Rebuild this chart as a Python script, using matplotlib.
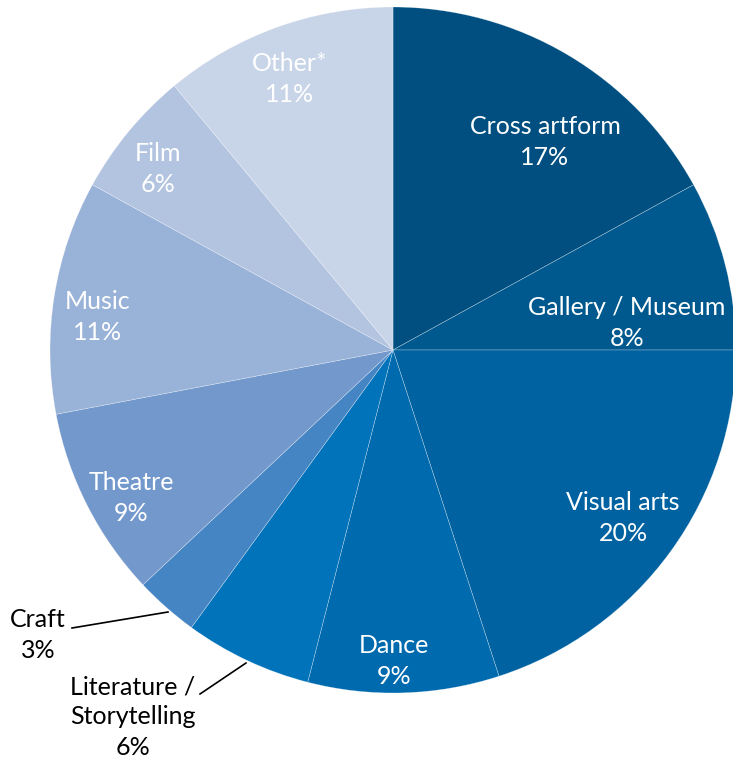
import matplotlib.pyplot as plt

# share of projects by artform (percent)
categories = ['Cross artform', 'Gallery / Museum', 'Visual arts', 'Dance',
              'Literature /\nStorytelling', 'Craft', 'Theatre', 'Music', 'Film', 'Other*']
shares = [17, 8, 20, 9, 6, 3, 9, 11, 6, 11]
colors = ['#004f80', '#00598e', '#0062a0', '#006aae', '#0073bb',
          '#4585c4', '#7398cc', '#99b2d8', '#b2c4e0', '#c8d4e7']

# label centres in pixel coords (x from left, y from top)
label_pos = [(545, 142), (627, 323), (623, 518), (394, 661),
             (133, 717), (38, 635), (131, 498), (98, 317), (158, 169), (290, 79)]
inside = [True, True, True, True, False, False, True, True, True, True]
# leader lines for the two small outside labels: (text end, wedge end)
leaders = {4: [(200, 694), (246, 663)], 5: [(72, 628), (168, 612)]}

W, H = 733, 762
cx, cy, r = 393, 350, 343

plt.rcParams['font.family'] = ['Lato', 'DejaVu Sans']

fig = plt.figure(figsize=(W / 100, H / 100), dpi=100)
ax = fig.add_axes([0, 0, 1, 1])

ax.pie(shares, colors=colors, startangle=90, counterclock=False,
       center=(cx, H - cy), radius=r, frame=True,
       wedgeprops=dict(edgecolor=(1, 1, 1, 0.45), linewidth=0.4))
ax.set_xlim(0, W)
ax.set_ylim(0, H)
ax.set_aspect('equal')
ax.axis('off')

for i, (name, val) in enumerate(zip(categories, shares)):
    x, y = label_pos[i]
    ax.text(x, H - y, f'{name}\n{val}%', ha='center', va='center',
            fontsize=18, linespacing=1.38,
            color='white' if inside[i] else 'black')

for i, pts in leaders.items():
    xs = [p[0] for p in pts]
    ys = [H - p[1] for p in pts]
    ax.plot(xs, ys, color='black', linewidth=1.2)

fig.savefig('out.png', dpi=100)
